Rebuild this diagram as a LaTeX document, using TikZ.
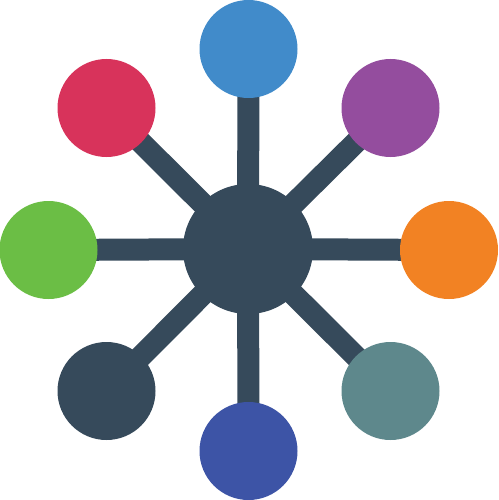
\documentclass[tikz,border=0pt]{standalone}
\usetikzlibrary{backgrounds}
\definecolor{cTop}{HTML}{418BCA}
\definecolor{cRed}{HTML}{D8335B}
\definecolor{cPurple}{HTML}{944D9E}
\definecolor{cGreen}{HTML}{6BBE45}
\definecolor{cOrange}{HTML}{F28223}
\definecolor{cDark}{HTML}{364A5B}
\definecolor{cTeal}{HTML}{5E888C}
\definecolor{cBlue}{HTML}{3D54A6}
\tikzset{
  leaf/.style={circle, minimum size=98pt, inner sep=0pt, fill=#1},
  hubnode/.style={circle, minimum size=130pt, inner sep=0pt, fill=cDark},
  spoke/.style={draw=cDark, line width=22pt}
}
\begin{document}
\begin{tikzpicture}[x=1pt, y=-1pt]
\useasboundingbox (0,0) rectangle (498,500);
\node[hubnode] (hub) at (248,249) {};
\node[leaf=cTop] (top) at (248.5,49) {};
\node[leaf=cRed] (red) at (106.5,108) {};
\node[leaf=cPurple] (purple) at (390.5,108) {};
\node[leaf=cGreen] (green) at (48.5,250) {};
\node[leaf=cOrange] (orange) at (449,250) {};
\node[leaf=cDark] (dark) at (106.5,391) {};
\node[leaf=cTeal] (teal) at (390.5,391) {};
\node[leaf=cBlue] (blue) at (248.5,451) {};
\begin{pgfonlayer}{background}
\foreach \n in {top,red,purple,green,orange,dark,teal,blue}
  \draw[spoke] (hub.center) -- (\n.center);
\end{pgfonlayer}
\end{tikzpicture}
\end{document}
